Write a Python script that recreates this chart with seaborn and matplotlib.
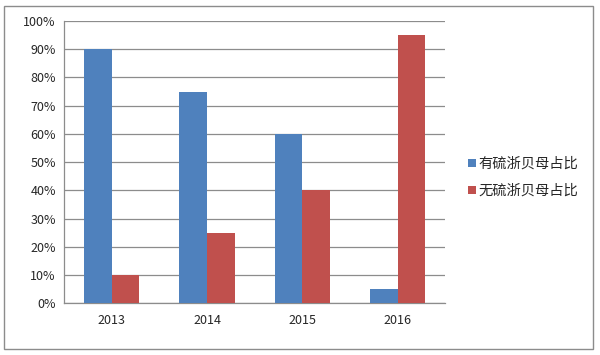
import pandas as pd
import matplotlib
matplotlib.use('Agg')
from matplotlib import pyplot as plt
from matplotlib.patches import Rectangle
from matplotlib.ticker import FixedLocator, PercentFormatter
import seaborn as sns

years = ['2013', '2014', '2015', '2016']
series_names = ['有硫浙贝母占比', '无硫浙贝母占比']
with_sulfur = [90, 75, 60, 5]
without_sulfur = [10, 25, 40, 95]
colors = ['#4F81BD', '#C0504D']

df = pd.DataFrame({
    'year': years * 2,
    'series': [series_names[0]] * 4 + [series_names[1]] * 4,
    'value': with_sulfur + without_sulfur,
})

sns.set_style('white')
plt.rcParams['font.family'] = ['Noto Sans CJK SC', 'DejaVu Sans']

fig = plt.figure(figsize=(6, 3.55), dpi=100)
ax = fig.add_axes([0.107, 0.146, 0.635, 0.795])

sns.barplot(data=df, x='year', y='value', hue='series', palette=colors,
            width=0.58, saturation=1, linewidth=0, ax=ax, zorder=3)

ax.set_ylim(0, 100)
ax.set_xlim(-0.5, 3.5)
ax.set_yticks(range(0, 101, 10))
ax.yaxis.set_major_formatter(PercentFormatter(decimals=0))
ax.yaxis.grid(True, color='#8c8c8c', linewidth=0.9, zorder=0)
ax.set_xlabel('')
ax.set_ylabel('')

for side in ['top', 'right']:
    ax.spines[side].set_visible(False)
for side in ['left', 'bottom']:
    ax.spines[side].set_color('#8c8c8c')
    ax.spines[side].set_linewidth(0.9)

ax.tick_params(axis='y', which='major', length=4, color='#8c8c8c', labelsize=9, pad=2)
ax.tick_params(axis='x', which='major', length=0, labelsize=9, pad=8)
ax.xaxis.set_minor_locator(FixedLocator([-0.5, 0.5, 1.5, 2.5, 3.5]))
ax.tick_params(axis='x', which='minor', length=4, color='#8c8c8c', direction='out')

handles, labels = ax.get_legend_handles_labels()
ax.legend(handles, labels, loc='center left', bbox_to_anchor=(0.758, 0.5),
          bbox_transform=fig.transFigure, frameon=False, fontsize=10.3,
          handlelength=0.55, handleheight=0.55, handletextpad=0.2, labelspacing=0.9)

fig.patches.append(Rectangle((4 / 600, 6 / 355), 589 / 600, 343 / 355,
                             transform=fig.transFigure, fill=False,
                             edgecolor='#8c8c8c', linewidth=1))

fig.savefig('out.png', dpi=100)
